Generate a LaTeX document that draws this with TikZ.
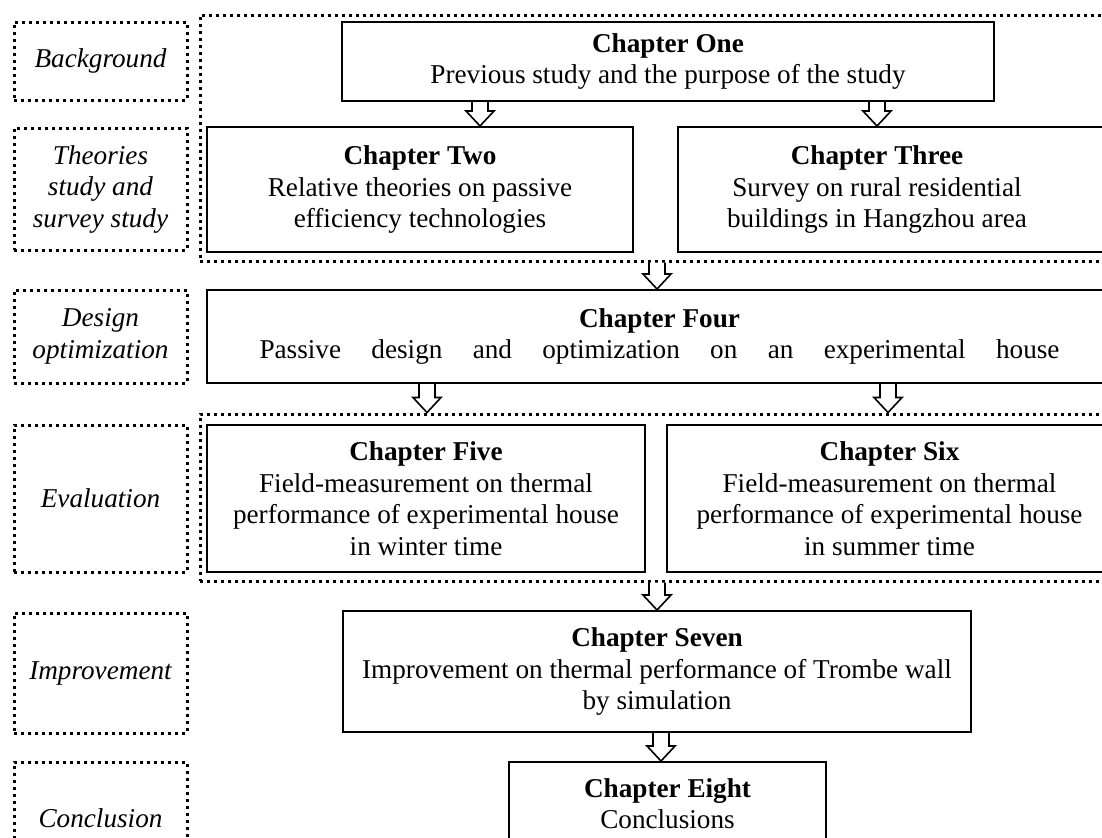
\documentclass[tikz,border=0pt]{standalone}
\usepackage{fontspec}
\setmainfont{Liberation Serif}
\usetikzlibrary{calc}

\begin{document}
\begin{tikzpicture}[
    x=0.5pt, y=-0.5pt,
    every node/.style={
        font=\fontsize{13.6}{15.75}\selectfont,
        align=center,
        inner sep=0pt
    },
    chapbox/.style={
        draw,
        line width=1pt
    },
    stagebox/.style={
        draw,
        line width=1.5pt,
        dash pattern=on 1.5pt off 2pt,
        minimum width=86.5pt,
        font=\fontsize{13.6}{15.75}\selectfont\itshape
    },
    blockarrow/.style={
        draw,
        fill=white,
        line width=0.8pt,
        to path={
            let \p1=(\tikztostart), \p2=(\tikztotarget) in
            (\x1-4pt,\y1) -- (\x1-4pt,\y2+7.5pt) -- (\x1-7pt,\y2+7.5pt)
            -- (\x1,\y2) -- (\x1+7pt,\y2+7.5pt) -- (\x1+4pt,\y2+7.5pt)
            -- (\x1+4pt,\y1)
        }
    }
]

\useasboundingbox (0,0) rectangle (1102,837);
\clip (0,0) rectangle (1102,837);

% ------------------------------------------------
% Dotted frames round the first and third rows
% ------------------------------------------------
\node[stagebox, minimum width=456pt, minimum height=123pt] (frame1) at (656,138) {};
\node[stagebox, minimum width=456pt, minimum height=83.5pt] (frame2) at (656,497.5) {};

% ------------------------------------------------
% Stage labels on the left
% ------------------------------------------------
\node[stagebox, minimum height=39pt] (lb1) at (100.5,61) {Background};
\node[stagebox, minimum height=61pt] (lb2) at (100.5,189) {Theories\\study and\\survey study};
\node[stagebox, minimum height=46.5pt] (lb3) at (100.5,336.5) {Design\\optimization};
\node[stagebox, minimum height=73.5pt] (lb4) at (100.5,498.5) {Evaluation};
\node[stagebox, minimum height=60pt] (lb5) at (100.5,673) {Improvement};
\node[stagebox, minimum height=56pt] (lb6) at (100.5,818) {Conclusion};

% ------------------------------------------------
% Chapter boxes
% ------------------------------------------------
\coordinate (a1) at (480,0);
\coordinate (a2) at (877,0);
\coordinate (a3) at (657,0);
\coordinate (a4) at (427,0);
\coordinate (a5) at (888,0);
\coordinate (a6) at (661,0);

\node[chapbox, minimum width=326pt, minimum height=39.5pt] (ch1) at (668,61.5)
    {\textbf{Chapter One}\\Previous study and the purpose of the study};
\node[chapbox, minimum width=213pt, minimum height=62.5pt] (ch2) at (420,189.5)
    {\textbf{Chapter Two}\\Relative theories on passive\\efficiency technologies};
\node[chapbox, minimum width=217pt, minimum height=62.5pt] (ch3) at (895,189.5) {};
\node (ch3txt) at (ch3.center -| a2)
    {\textbf{Chapter Three}\\Survey on rural residential\\buildings in Hangzhou area};
\node[chapbox, minimum width=452.5pt, minimum height=46.5pt] (ch4) at (659.5,336.5)
    {\textbf{Chapter Four}\\\makebox[400pt][s]{Passive design and optimization on an experimental house}};
\node[chapbox, minimum width=219pt, minimum height=73.5pt] (ch5) at (426,498.5)
    {\textbf{Chapter Five}\\Field-measurement on thermal\\performance of experimental house\\in winter time};
\node[chapbox, minimum width=222.5pt, minimum height=73.5pt] (ch6) at (889.5,498.5)
    {\textbf{Chapter Six}\\Field-measurement on thermal\\performance of experimental house\\in summer time};
\node[chapbox, minimum width=314pt, minimum height=60.5pt] (ch7) at (657,671.5)
    {\textbf{Chapter Seven}\\Improvement on thermal performance of Trombe wall\\by simulation};
\node[chapbox, minimum width=158.5pt, minimum height=41.5pt] (ch8) at (667.5,803.5)
    {\textbf{Chapter Eight}\\Conclusions};

% ------------------------------------------------
% Hollow block arrows
% ------------------------------------------------
\draw[blockarrow] (ch1.south -| a1) to (ch2.north -| a1);
\draw[blockarrow] (ch1.south -| a2) to (ch3.north -| a2);
\draw[blockarrow] (frame1.south -| a3) to (ch4.north -| a3);
\draw[blockarrow] (ch4.south -| a4) to (frame2.north -| a4);
\draw[blockarrow] (ch4.south -| a5) to (frame2.north -| a5);
\draw[blockarrow] (frame2.south -| a3) to (ch7.north -| a3);
\draw[blockarrow] (ch7.south -| a6) to (ch8.north -| a6);

\end{tikzpicture}
\end{document}
